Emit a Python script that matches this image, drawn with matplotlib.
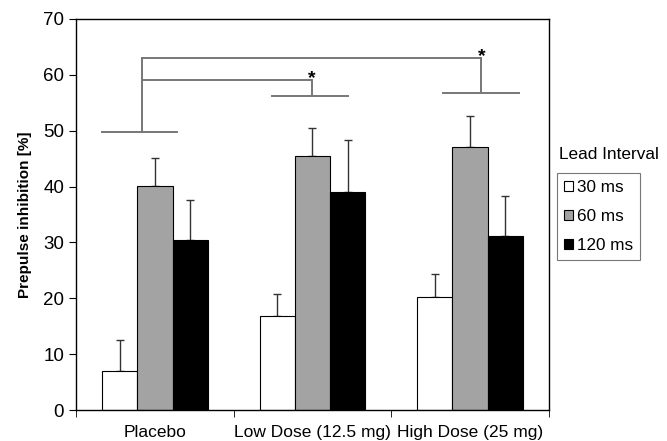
import matplotlib
matplotlib.use("Agg")
import matplotlib.pyplot as plt
import numpy as np

plt.rcParams['font.family'] = ['Liberation Sans', 'DejaVu Sans']

groups = ['Placebo', 'Low Dose (12.5 mg)', 'High Dose (25 mg)']
intervals = ['30 ms', '60 ms', '120 ms']
means = {
    '30 ms': [7.0, 16.9, 20.2],
    '60 ms': [40.1, 45.4, 47.1],
    '120 ms': [30.4, 39.1, 31.1],
}
errs = {
    '30 ms': [5.5, 3.8, 4.1],
    '60 ms': [5.1, 5.1, 5.6],
    '120 ms': [7.2, 9.3, 7.2],
}
colors = {'30 ms': 'white', '60 ms': '#a3a3a3', '120 ms': 'black'}

# significance brackets: level of each group's line, and the two bracket heights
group_line = [49.7, 56.2, 56.7]
bracket_low = 59.1
bracket_high = 63.1

fig = plt.figure(figsize=(6.67, 4.41), dpi=100)
ax = fig.add_axes([0.114, 0.07, 0.709, 0.887])

x = np.arange(len(groups))
w = 0.224
for i, name in enumerate(intervals):
    pos = x + (i - 1) * w
    ax.bar(pos, means[name], w, color=colors[name], edgecolor='black',
           linewidth=0.8, label=name, zorder=2)
    ax.errorbar(pos, means[name], yerr=[np.zeros(3), errs[name]], fmt='none',
                ecolor='#333333', elinewidth=1.0, capsize=3, capthick=1.0, zorder=1)

lc = '#777777'
lw = 1.4
spans = [(-0.336, 0.142), (-0.254, 0.224), (-0.175, 0.309)]
verts = [-0.082, -0.005, 0.071]
for g in range(3):
    ax.plot([g + spans[g][0], g + spans[g][1]], [group_line[g]] * 2, color=lc, lw=lw)
ax.plot([verts[0], verts[0]], [group_line[0], bracket_high], color=lc, lw=lw)
ax.plot([verts[0], 1 + verts[1]], [bracket_low] * 2, color=lc, lw=lw)
ax.plot([1 + verts[1]] * 2, [group_line[1], bracket_low], color=lc, lw=lw)
ax.plot([verts[0], 2 + verts[2]], [bracket_high] * 2, color=lc, lw=lw)
ax.plot([2 + verts[2]] * 2, [group_line[2], bracket_high], color=lc, lw=lw)
ax.text(1 + verts[1], bracket_low + 0.2, '*', ha='center', va='center', fontsize=14, fontweight='bold')
ax.text(2 + verts[2], bracket_high + 0.2, '*', ha='center', va='center', fontsize=14, fontweight='bold')

ax.set_xlim(-0.5, 2.5)
ax.set_ylim(0, 70)
ax.set_yticks(range(0, 71, 10))
ax.set_xticks(x)
ax.set_xticklabels(groups, fontsize=12.5)
ax.set_xticks([-0.5, 0.5, 1.5, 2.5], minor=True)
ax.tick_params(axis='x', which='major', length=0, pad=11)
ax.tick_params(axis='x', which='minor', length=5, direction='out')
ax.tick_params(axis='y', labelsize=13.5, length=5, direction='out')
for s in ax.spines.values():
    s.set_linewidth(1.0)
ax.set_ylabel('Prepulse inhibition [%]', fontsize=11, fontweight='bold', labelpad=8)

fig.text(0.838, 0.650, 'Lead Interval', fontsize=12.4, ha='left', va='center')
leg = fig.legend(loc='upper left', bbox_to_anchor=(0.835, 0.608), fontsize=12.3,
                 frameon=True, fancybox=False, edgecolor='#555555',
                 handlelength=0.55, handleheight=0.55, handletextpad=0.2,
                 labelspacing=0.82, borderpad=0.4, borderaxespad=0)
leg.get_frame().set_linewidth(0.8)

fig.savefig('out.png', dpi=100)
